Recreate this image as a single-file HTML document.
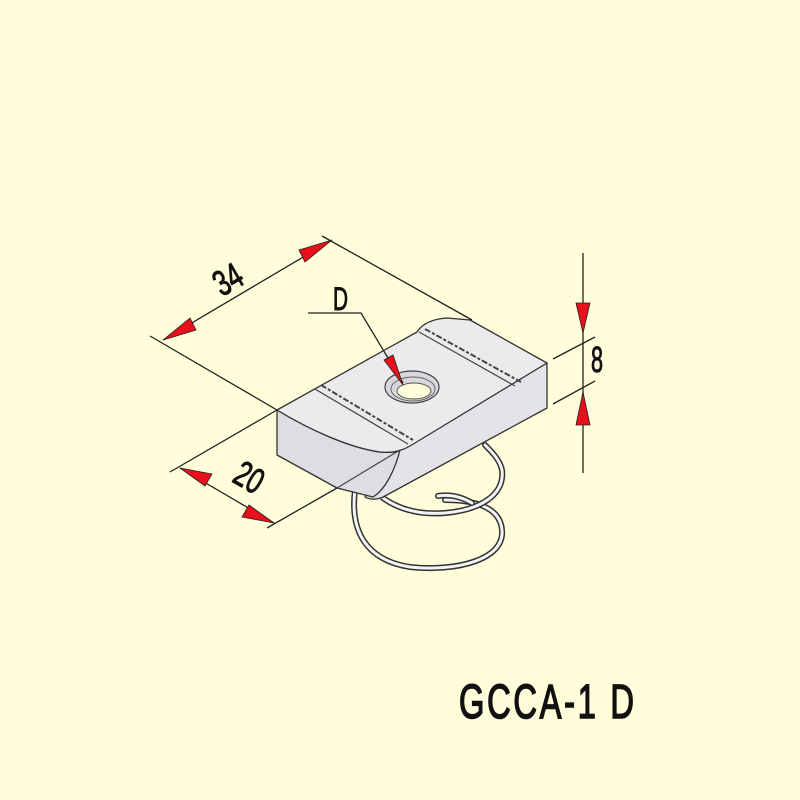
<!DOCTYPE html>
<html><head><meta charset="utf-8"><style>
html,body{margin:0;padding:0;background:#FFFDDA;}
svg{display:block}
</style></head><body>
<svg width="800" height="800" viewBox="0 0 800 800" xmlns="http://www.w3.org/2000/svg">
<rect width="800" height="800" fill="#FFFDDA"/>
<!-- spring -->
<g fill="none" stroke-linecap="round">
<path d="M355 490 C350 530 365 560 410 567 C455 572 505 560 502 530 C500 505 470 500 445 500" stroke="#333" stroke-width="6"/>
<path d="M355 490 C350 530 365 560 410 567 C455 572 505 560 502 530 C500 505 470 500 445 500" stroke="#f4f4f6" stroke-width="3"/>
<path d="M383 498 C400 510 420 515 445 513 C480 510 505 495 502 470 C500 460 492 452 485 445" stroke="#333" stroke-width="6"/>
<path d="M383 498 C400 510 420 515 445 513 C480 510 505 495 502 470 C500 460 492 452 485 445" stroke="#f4f4f6" stroke-width="3"/>
<path d="M438 496 C450 494 462 497 472 503" stroke="#333" stroke-width="6"/>
<path d="M438 496 C450 494 462 497 472 503" stroke="#f4f4f6" stroke-width="3"/>
</g>
<!-- nut -->
<g stroke="#333" stroke-width="1.3" stroke-linejoin="round">
<path d="M395 450 L547 363 L547 408 L385 496 C378 500 370 500 365 497 Z" fill="#E4E4E8"/>
<path d="M277 410 C310 430 350 448 380 452 C392 453 398 452 400 450 C395 470 385 490 373 497 L337 488 L277 455 Z" fill="#DDDDE2"/>
<path d="M277 410 L417 332 C422 324 432 319 447 318 L470 320 L547 363 L410 446 C400 452 390 453 380 452 C350 448 310 430 277 410 Z" fill="#EBEBEE"/>
</g>
<g stroke="#444" stroke-width="1.2" fill="none">
<path d="M400 450 L337 488"/>
<path d="M315 389 L408 444"/>
<path d="M321 385 L413 440" stroke-width="2" stroke-dasharray="6 2 3 2"/>
<path d="M419 332 L515 386"/>
<path d="M425 329 L521 382" stroke-width="2" stroke-dasharray="6 2 3 2"/>
</g>
<!-- hole -->
<ellipse cx="412" cy="387" rx="27" ry="16" fill="#d8d8dc" stroke="#444" stroke-width="1.2"/>
<ellipse cx="413" cy="389" rx="22" ry="12" fill="none" stroke="#666" stroke-width="1"/>
<ellipse cx="414" cy="391" rx="17" ry="8" fill="#FFFDDA" stroke="#555" stroke-width="1"/>
<!-- dimension lines -->
<g stroke="#222" stroke-width="1.3" fill="none">
<line x1="150" y1="336" x2="277" y2="410"/>
<line x1="322" y1="236" x2="472" y2="320"/>
<line x1="163" y1="340" x2="332" y2="240"/>
<line x1="170" y1="472" x2="277" y2="410"/>
<line x1="267" y1="528" x2="337" y2="488"/>
<line x1="180" y1="468" x2="274" y2="523"/>
<line x1="583" y1="253" x2="583" y2="473"/>
<line x1="553" y1="359" x2="595" y2="337"/>
<line x1="553" y1="404" x2="595" y2="381"/>
<polyline points="308,313 361,313 403,383"/>
</g>
<g fill="#E8101A" stroke="#222" stroke-width="0.8">
<polygon points="163,340 190,318 196,330"/>
<polygon points="332,240 305,262 299,250"/>
<polygon points="180,468 212,474 205,486"/>
<polygon points="274,523 242,517 249,505"/>
<polygon points="583,333 576,303 590,303"/>
<polygon points="583,392 576,425 590,425"/>
<polygon points="403,385 384,360 393,355"/>
</g>
<g font-family="Liberation Sans, sans-serif" fill="#111" stroke="#111" stroke-width="1">
<text transform="translate(234,290) rotate(-30) scale(0.7,1)" font-size="36" text-anchor="middle">34</text>
<text transform="translate(243,488) rotate(30) scale(0.7,1)" font-size="36" text-anchor="middle">20</text>
<text transform="translate(591,372) scale(0.6,1)" font-size="36">8</text>
<text transform="translate(333,310) scale(0.65,1)" font-size="32">D</text>
<text transform="translate(459,718) scale(0.68,1)" font-size="48" letter-spacing="4" stroke-width="1.6">GCCA-1 D</text>
</g>
</svg>
</body></html>
